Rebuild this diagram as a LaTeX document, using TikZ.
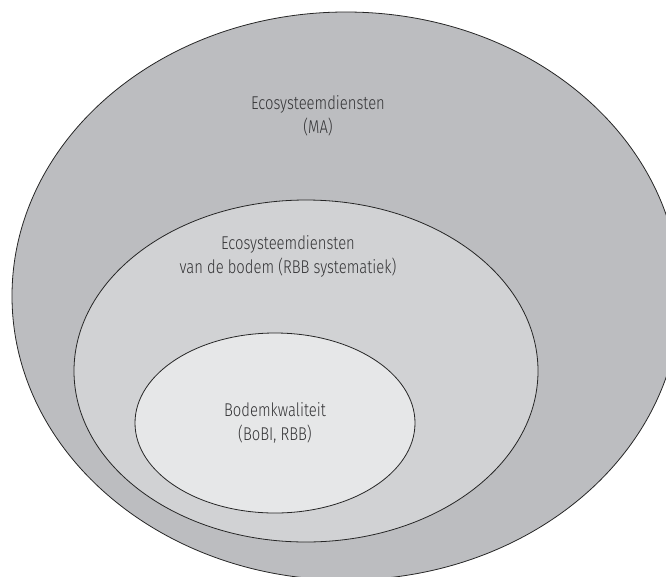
\documentclass[tikz,border=0pt]{standalone}
\usepackage{fontspec}
\setmainfont{Fira Sans}[UprightFont=* Light, FakeStretch=0.8]
\usetikzlibrary{shapes.geometric}
\definecolor{outerfill}{HTML}{BCBDC0}
\definecolor{midfill}{HTML}{D1D2D4}
\definecolor{innerfill}{HTML}{E6E7E8}
\definecolor{txt}{HTML}{333335}
\tikzset{
  ring/.style={ellipse, draw=black!85, line width=0.8pt, inner sep=0pt},
  lab/.style={align=center, text=txt, font=\fontsize{18.5}{24}\selectfont, inner sep=0pt}
}
\begin{document}
\begin{tikzpicture}[x=1pt,y=-1pt]
\useasboundingbox (0,0) rectangle (666,576);
\clip (0,0) rectangle (666,576);
\node[ring, fill=outerfill, minimum width=668pt, minimum height=568pt] (outer) at (346,296) {};
\node[ring, fill=midfill, minimum width=464pt, minimum height=342pt] (mid) at (306,371) {};
\node[ring, fill=innerfill, minimum width=280pt, minimum height=180pt] (inner) at (275,423) {};
\node[lab] (outerlab) at (318,116) {Ecosysteemdiensten\\(MA)};
\node[lab] (midlab) at (288,256) {Ecosysteemdiensten\\van de bodem (RBB systematiek)};
\node[lab] (innerlab) at (275,423) {Bodemkwaliteit\\(BoBI, RBB)};
\end{tikzpicture}
\end{document}
